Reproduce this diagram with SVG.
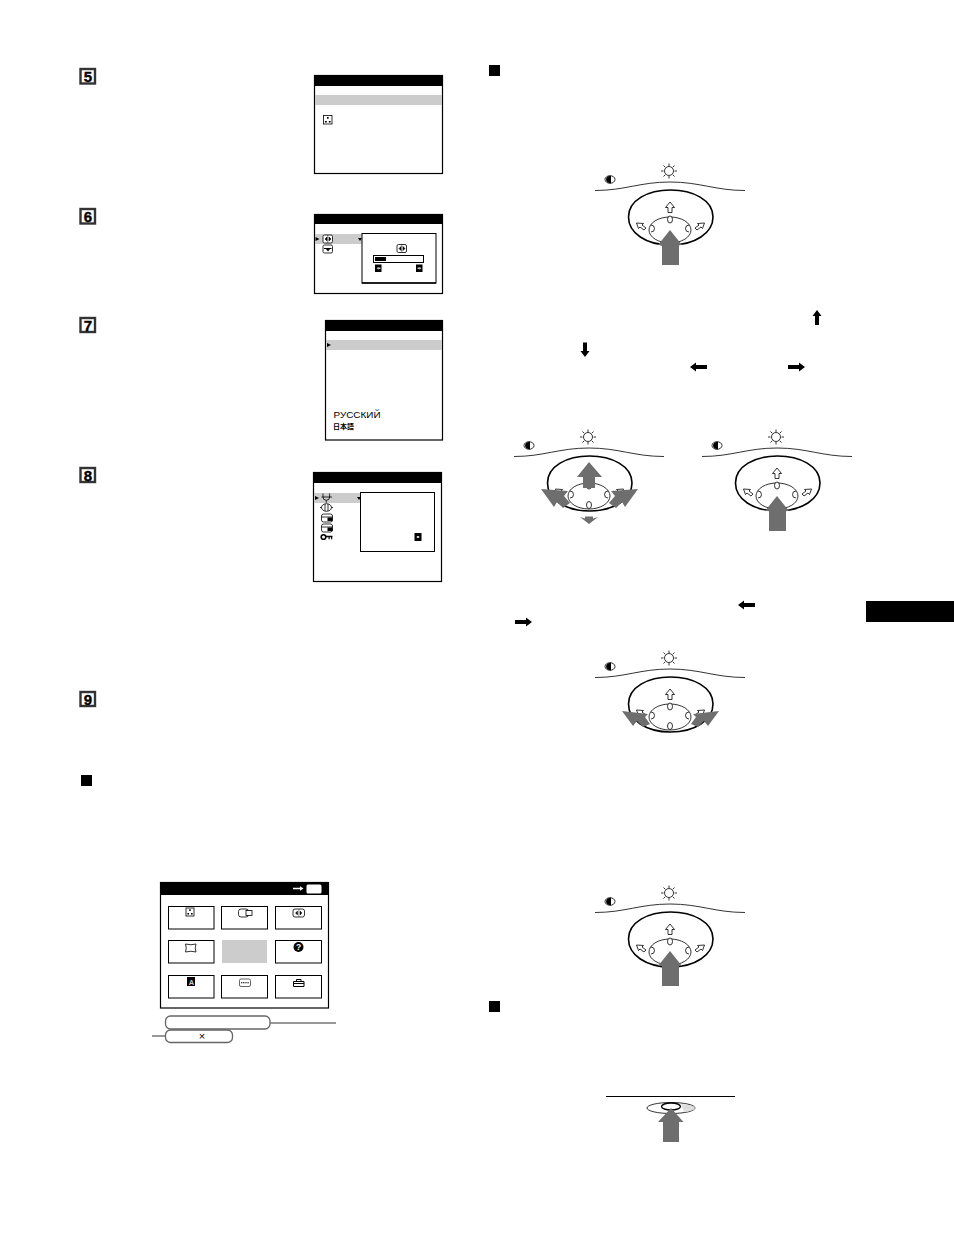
<svg xmlns="http://www.w3.org/2000/svg" width="954" height="1238" viewBox="0 0 954 1238">
<style>
.o{fill:#fff;stroke:#000;stroke-width:1.2}
.k{fill:#000}
.g{fill:#ccc}
.a{fill:#6e6e6e}
.l{fill:none;stroke:#000;stroke-width:.8}
.w{fill:#fff;stroke:#000;stroke-width:.8}
.d{font:bold 15px "Liberation Sans",Arial,sans-serif;fill:#000;text-anchor:middle;stroke:#000;stroke-width:.4}
.b{fill:#fff;stroke:#333;stroke-width:2.400}
.c{fill:none;stroke:#777;stroke-width:1.3}
.p{fill:#fff;stroke:#666;stroke-width:1.3}
</style>
<defs>
<g id="padbase">
<circle cx="669" cy="171" r="4.500" class="w"/>
<path d="M669 163.500v2.500M669 176v2.500M661 171h2.500M674.500 171h2.500M663.500 165.500l1.800 1.800M672.700 174.700l1.800 1.800M674.500 165.500l-1.800 1.800M665.300 174.700l-1.800 1.800" class="l"/>
<ellipse cx="610" cy="179.500" rx="5" ry="3.800" class="w"/>
<path d="M611 175.700a5 3.800 0 1 0 0 7.600z" class="k"/>
<path d="M595 190.500C625 190.500 640 182 670 182S715 190.500 745 190.500" class="l"/>
<path d="M628.500 217C628.500 200 648 190 670.500 190S713 200 713 217C713 233 695 245 670.500 245S628.500 233 628.500 217z" fill="none" stroke="#000" stroke-width="1.600"/>
<ellipse cx="670" cy="230" rx="21" ry="13" fill="none" stroke="#000" stroke-width=".8"/>
<ellipse cx="670" cy="219.500" rx="2.500" ry="3.500" class="w"/>
<path d="M651 225a3.500 3.500 0 0 1 0 7" class="w" transform="translate(0 0)"/>
<path d="M689 225a3.500 3.500 0 0 0 0 7" class="w"/>
<path d="M670 202l-4.500 5.500h2.500v5h4v-5h2.500z" class="w"/>
<path d="M636.500 223l7 .5-1.500 1.500 4 3-2 2-4-3-1.500 1.500z" class="w"/>
<path d="M704.500 223l-7 .5 1.500 1.500-4 3 2 2 4-3 1.500 1.500z" class="w"/>
</g>
<path id="pressup" d="M670 230l12 15h-3v20h-17v-20h-4z" class="a"/>
</defs>

<g id="step5"><rect x="80.500" y="69" width="14.500" height="14.500" class="b"/><text x="87.800" y="81.500" class="d">5</text></g>
<g id="step6"><rect x="80.500" y="209" width="14.500" height="14.500" class="b"/><text x="87.800" y="221.500" class="d">6</text></g>
<g id="step7"><rect x="80.500" y="318" width="14.500" height="14" class="b"/><text x="87.800" y="330.500" class="d">7</text></g>
<g id="step8"><rect x="80.500" y="468" width="14.500" height="14" class="b"/><text x="87.800" y="480.500" class="d">8</text></g>
<g id="step9"><rect x="80.500" y="692" width="14.500" height="14" class="b"/><text x="87.800" y="704.500" class="d">9</text></g>

<g id="bullets">
<rect x="489" y="65" width="11" height="11" class="k"/>
<rect x="81" y="775" width="11" height="11" class="k"/>
<rect x="489" y="1001" width="11" height="11" class="k"/>
<rect x="866" y="601" width="88" height="21" class="k"/>
</g>

<g id="menu5">
<rect x="314.500" y="75.500" width="128" height="98" class="o"/>
<rect x="314" y="75" width="129" height="11" class="k"/>
<rect x="315" y="95" width="127" height="10" class="g"/>
<rect x="323.500" y="115.500" width="8.500" height="8.500" class="w"/>
<path d="M327 117h1.600v1.800h-1.600zM325 121h1.800v1.600h-1.800zM328.800 121h1.800v1.600h-1.800z" class="k"/>
</g>

<g id="menu6">
<rect x="314.500" y="214.500" width="128" height="79" class="o"/>
<rect x="314" y="214" width="129" height="10" class="k"/>
<rect x="315" y="234" width="47" height="10" class="g"/>
<path d="M315.500 237l4 2-4 2zM358 238h4l-2 3z" class="k"/>
<rect x="323" y="235" width="9.500" height="8" rx="1.500" class="w"/>
<path d="M327.800 235v8M325 239l2-2v4zM331 239l-2-2v4z" class="k" stroke="#000" stroke-width=".5"/>
<rect x="323" y="245" width="9.500" height="8" rx="1.500" class="w"/>
<path d="M324 248h7.500v1h-7.500zM326 249h4l-2 2.500z" class="k"/>
<rect x="362" y="233.500" width="74" height="49.500" fill="#fff" stroke="#000" stroke-width="1"/>
<path d="M362 283h74" stroke="#000" stroke-width="1.600"/>
<rect x="397" y="244.500" width="9.500" height="8" rx="1.500" class="w"/>
<path d="M401.800 244.500v8M399 248.500l2-2v4zM405 248.500l-2-2v4z" class="k" stroke="#000" stroke-width=".5"/>
<rect x="373.500" y="255.500" width="50" height="7" fill="#fff" stroke="#000" stroke-width="1"/>
<rect x="375" y="257" width="11" height="4" class="k"/>
<rect x="375" y="264.500" width="6.500" height="7.500" class="k"/>
<rect x="416" y="264.500" width="6.500" height="7.500" class="k"/>
<path d="M376.500 268.200l2-1.500v3zM380.500 267.400h-2v1.600h2zM421.500 268.200l-2-1.500v3zM417.500 267.400h2v1.600h-2z" fill="#bbb"/>
</g>

<g id="menu7">
<rect x="325.500" y="320.500" width="117" height="119.500" class="o"/>
<rect x="325" y="320" width="118" height="11" class="k"/>
<rect x="326" y="340" width="116" height="10" class="g"/>
<path d="M327 343l4 2-4 2z" class="k"/>
<text x="333.500" y="418" font-family="'Liberation Sans',Arial,sans-serif" font-size="9.500" textLength="47" lengthAdjust="spacingAndGlyphs">РУССКИЙ</text>
<text x="333" y="428.500" font-family="'Noto Sans CJK JP','Noto Sans CJK SC',sans-serif" font-size="7" font-weight="700">日本語</text>
</g>

<g id="menu8">
<rect x="313.500" y="472.500" width="128" height="109" class="o"/>
<rect x="313" y="472" width="129" height="11" class="k"/>
<rect x="314" y="493" width="46" height="10" class="g"/>
<path d="M315 496l4 2-4 2zM357 497h4l-2 3z" class="k"/>
<rect x="360.500" y="492.500" width="74" height="59" fill="#fff" stroke="#000" stroke-width="1"/>
<path d="M323 493.500v3.500a3.300 3.300 0 0 0 6.600 0v-3.500M326.300 500.300v2.500M321.500 497h10.500" class="l" stroke-width="1"/>
<ellipse cx="326.500" cy="507.500" rx="5" ry="3.800" class="w"/>
<path d="M325 504v7M328 504v7M320 507.500h1.500M331.500 507.500h1.500" class="l"/>
<rect x="321.500" y="514" width="11" height="8" rx="2" class="w"/>
<path d="M321.500 517h11" class="l"/><rect x="327.500" y="517.500" width="5" height="3.500" class="k"/>
<rect x="321.500" y="524" width="11" height="8" rx="2" class="w"/>
<path d="M321.500 527h11" class="l"/><rect x="327.500" y="527.500" width="5" height="3.500" class="k"/>
<circle cx="323.500" cy="537" r="2.300" fill="#fff" stroke="#000" stroke-width="1.600"/>
<path d="M325.500 535.800h7v1.400h-7zM328.500 537h1.200v2.200h-1.200zM331 537h1.200v2.200h-1.200z" class="k"/>
<rect x="414.500" y="533" width="7" height="8" class="k"/>
<rect x="416.800" y="536" width="2.400" height="2" fill="#ccc"/>
</g>

<g id="mainmenu">
<rect x="160.500" y="882.500" width="168" height="125.500" class="o"/>
<rect x="160" y="882" width="169" height="13" class="k"/>
<path d="M293 887.800h7v-1.500l3.500 2.200-3.500 2.200v-1.500h-7z" fill="#fff"/>
<rect x="306.500" y="884.500" width="15" height="9" rx="1.500" fill="#fff"/>
<g fill="#fff" stroke="#000" stroke-width="1">
<rect x="168.500" y="906.500" width="45.500" height="22.500"/><rect x="221.500" y="906.500" width="46" height="22.500"/><rect x="275.500" y="906.500" width="46" height="22.500"/>
<rect x="168.500" y="940.500" width="45.500" height="22.500"/><rect x="275.500" y="940.500" width="46" height="22.500"/>
<rect x="168.500" y="975.500" width="45.500" height="22.500"/><rect x="221.500" y="975.500" width="46" height="22.500"/><rect x="275.500" y="975.500" width="46" height="22.500"/>
</g>
<rect x="222" y="940" width="45" height="23" class="g"/>
<rect x="186" y="908" width="8" height="8" class="w"/>
<path d="M189.200 909.300h1.500v1.600h-1.500zM187.400 913h1.600v1.600h-1.600zM191 913h1.600v1.600h-1.600z" class="k"/>
<rect x="238.500" y="909" width="10" height="8" rx="2.500" class="w" stroke="#666"/>
<rect x="246" y="910.500" width="6" height="5" class="w"/>
<rect x="293" y="909" width="11.500" height="8" rx="2" class="w" stroke="#666"/>
<path d="M298.800 909v8M295.500 913l2-2v4zM302 913l-2-2v4z" class="k" stroke="#000" stroke-width=".4"/>
<path d="M185.500 944q5.500 1.500 10.500 0q-1.500 4.500 0 8q-5-1.500-10.500 0q1.500-4 0-8z" class="w"/>
<circle cx="298.500" cy="947" r="5" class="k"/>
<text x="298.500" y="950" font-family="'Liberation Sans',Arial,sans-serif" font-size="8.500" font-weight="bold" fill="#fff" text-anchor="middle">?</text>
<rect x="187" y="977" width="8" height="9" class="k"/>
<text x="191.500" y="985" font-family="'Liberation Sans',Arial,sans-serif" font-size="7.500" font-weight="bold" fill="#ccc" text-anchor="middle">A</text>
<rect x="239.500" y="979" width="11" height="7.500" rx="1.500" fill="#fff" stroke="#555" stroke-width=".9"/>
<path d="M241 982.800h8" stroke="#000" stroke-width="1.100" stroke-dasharray="1.200 .6"/>
<path d="M293.500 981.500h10.500v5h-10.500zM293.500 983.500h10.500M296.500 981.500v-2h4.500v2" fill="none" stroke="#000" stroke-width="1"/>
</g>

<g id="pill1"><rect x="165.500" y="1016" width="104.500" height="13" rx="5" class="p"/></g>
<g id="pill2"><rect x="165.500" y="1030" width="67" height="12.500" rx="5" class="p"/>
<text x="202" y="1040" font-family="'Liberation Sans',Arial,sans-serif" font-size="11" text-anchor="middle">×</text></g>

<g id="connectors">
<path d="M270 1023h66M152 1036h13" class="c"/>
</g>

<g id="pad1"><use href="#padbase"/><use href="#pressup"/></g>

<g id="pad2">
<use href="#padbase" x="-81" y="266"/>
<path d="M589 462l13 15h-7v11h-12v-11h-6z" class="a"/>
<path d="M541 489l27 2-4 5 6 7-7 5-6-6-3 5z" class="a"/>
<path d="M638 489l-27 2 4 5-6 7 7 5 6-6 3 5z" class="a"/>
<ellipse cx="589" cy="505" rx="2.500" ry="3.500" class="w"/>
<path d="M580 517l5 1.500v-2h8v2l5-1.500-9 7z" class="a"/>
</g>

<g id="pad3">
<use href="#padbase" x="107" y="266"/>
<path d="M777 496l12 15h-3v20h-17v-20h-4z" class="a"/>
</g>

<g id="pad4">
<use href="#padbase" y="487"/>
<ellipse cx="670" cy="726" rx="2.500" ry="3.500" class="w"/>
<path d="M622 711l26 3-3 3 5 7-7 3-6-6-4 5z" class="a"/>
<path d="M719 711l-26 3 3 3-5 7 7 3 6-6 4 5z" class="a"/>
</g>

<g id="pad5"><use href="#padbase" y="722"/><use href="#pressup" y="721"/></g>

<g id="pad6">
<path d="M606 1096.500h129" stroke="#000" stroke-width="1" fill="none"/>
<ellipse cx="671" cy="1108" rx="24" ry="5.500" class="w"/>
<path d="M681 1104q13 1 14 4q-1 3-11 4z" fill="#ddd"/>
<ellipse cx="671" cy="1106.500" rx="9.500" ry="3.500" fill="none" stroke="#000" stroke-width="1.400"/>
<path d="M671 1108l12.500 14h-4.500v20h-16v-20h-5z" class="a"/>
</g>

<g id="arrows" class="k">
<path d="M817 310l4.500 6h-2.500v9h-4v-9h-2.500z"/>
<path d="M585 357l4.500-6h-2.500v-8.500h-4v8.500h-2.500z"/>
<path d="M690 367l6-4.500v2.500h11v4h-11v2.500z"/>
<path d="M805 367l-6-4.500v2.500h-11v4h11v2.500z"/>
<path d="M738 605l6-4.500v2.500h11v4h-11v2.500z"/>
<path d="M532 622l-6-4.500v2.500h-11v4h11v2.500z"/>
</g>
</svg>
